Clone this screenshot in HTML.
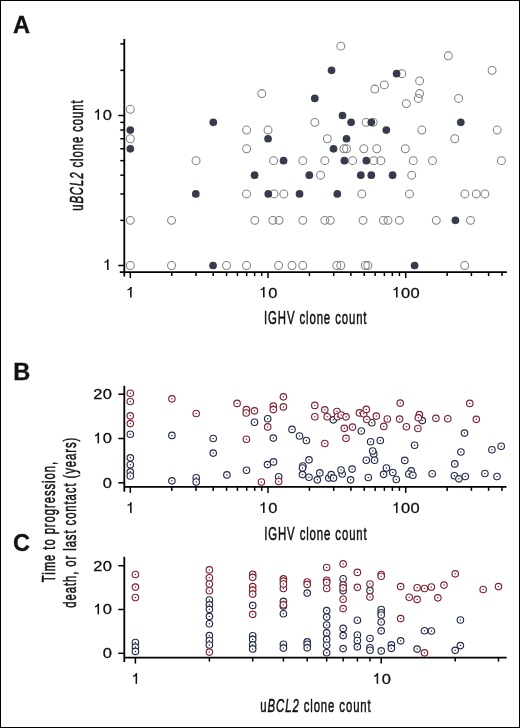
<!DOCTYPE html>
<html><head><meta charset="utf-8"><style>
html,body{margin:0;padding:0;background:#fff;}
svg{display:block;will-change:transform;}
text{font-family:"Liberation Sans", sans-serif;fill:#111;}
</style></head><body>
<svg width="520" height="728" viewBox="0 0 520 728">
<rect x="0" y="0" width="520" height="728" fill="#fff"/>
<rect x="0.5" y="0.5" width="519" height="727" fill="none" stroke="#000" stroke-width="1"/>
<line x1="124.30" y1="38.90" x2="124.30" y2="276.50" stroke="#000" stroke-width="1.8"/>
<line x1="118.30" y1="265.50" x2="124.30" y2="265.50" stroke="#000" stroke-width="1.5"/>
<line x1="118.30" y1="115.50" x2="124.30" y2="115.50" stroke="#000" stroke-width="1.5"/>
<line x1="120.30" y1="220.35" x2="124.30" y2="220.35" stroke="#000" stroke-width="1.5"/>
<line x1="120.30" y1="193.93" x2="124.30" y2="193.93" stroke="#000" stroke-width="1.5"/>
<line x1="120.30" y1="175.19" x2="124.30" y2="175.19" stroke="#000" stroke-width="1.5"/>
<line x1="120.30" y1="160.65" x2="124.30" y2="160.65" stroke="#000" stroke-width="1.5"/>
<line x1="120.30" y1="148.78" x2="124.30" y2="148.78" stroke="#000" stroke-width="1.5"/>
<line x1="120.30" y1="138.74" x2="124.30" y2="138.74" stroke="#000" stroke-width="1.5"/>
<line x1="120.30" y1="130.04" x2="124.30" y2="130.04" stroke="#000" stroke-width="1.5"/>
<line x1="120.30" y1="122.36" x2="124.30" y2="122.36" stroke="#000" stroke-width="1.5"/>
<line x1="120.30" y1="70.35" x2="124.30" y2="70.35" stroke="#000" stroke-width="1.5"/>
<line x1="120.30" y1="43.93" x2="124.30" y2="43.93" stroke="#000" stroke-width="1.5"/>
<line x1="119.80" y1="272.10" x2="506.90" y2="272.10" stroke="#000" stroke-width="1.8"/>
<line x1="130.30" y1="272.10" x2="130.30" y2="278.10" stroke="#000" stroke-width="1.5"/>
<line x1="268.00" y1="272.10" x2="268.00" y2="278.10" stroke="#000" stroke-width="1.5"/>
<line x1="405.70" y1="272.10" x2="405.70" y2="278.10" stroke="#000" stroke-width="1.5"/>
<line x1="171.75" y1="272.10" x2="171.75" y2="276.10" stroke="#000" stroke-width="1.5"/>
<line x1="196.00" y1="272.10" x2="196.00" y2="276.10" stroke="#000" stroke-width="1.5"/>
<line x1="213.20" y1="272.10" x2="213.20" y2="276.10" stroke="#000" stroke-width="1.5"/>
<line x1="226.55" y1="272.10" x2="226.55" y2="276.10" stroke="#000" stroke-width="1.5"/>
<line x1="237.45" y1="272.10" x2="237.45" y2="276.10" stroke="#000" stroke-width="1.5"/>
<line x1="246.67" y1="272.10" x2="246.67" y2="276.10" stroke="#000" stroke-width="1.5"/>
<line x1="254.66" y1="272.10" x2="254.66" y2="276.10" stroke="#000" stroke-width="1.5"/>
<line x1="261.70" y1="272.10" x2="261.70" y2="276.10" stroke="#000" stroke-width="1.5"/>
<line x1="309.45" y1="272.10" x2="309.45" y2="276.10" stroke="#000" stroke-width="1.5"/>
<line x1="333.70" y1="272.10" x2="333.70" y2="276.10" stroke="#000" stroke-width="1.5"/>
<line x1="350.90" y1="272.10" x2="350.90" y2="276.10" stroke="#000" stroke-width="1.5"/>
<line x1="364.25" y1="272.10" x2="364.25" y2="276.10" stroke="#000" stroke-width="1.5"/>
<line x1="375.15" y1="272.10" x2="375.15" y2="276.10" stroke="#000" stroke-width="1.5"/>
<line x1="384.37" y1="272.10" x2="384.37" y2="276.10" stroke="#000" stroke-width="1.5"/>
<line x1="392.36" y1="272.10" x2="392.36" y2="276.10" stroke="#000" stroke-width="1.5"/>
<line x1="399.40" y1="272.10" x2="399.40" y2="276.10" stroke="#000" stroke-width="1.5"/>
<line x1="447.15" y1="272.10" x2="447.15" y2="276.10" stroke="#000" stroke-width="1.5"/>
<line x1="471.40" y1="272.10" x2="471.40" y2="276.10" stroke="#000" stroke-width="1.5"/>
<line x1="488.60" y1="272.10" x2="488.60" y2="276.10" stroke="#000" stroke-width="1.5"/>
<line x1="501.95" y1="272.10" x2="501.95" y2="276.10" stroke="#000" stroke-width="1.5"/>
<line x1="124.30" y1="385.80" x2="124.30" y2="491.70" stroke="#000" stroke-width="1.8"/>
<line x1="118.30" y1="482.80" x2="124.30" y2="482.80" stroke="#000" stroke-width="1.5"/>
<line x1="118.30" y1="438.50" x2="124.30" y2="438.50" stroke="#000" stroke-width="1.5"/>
<line x1="118.30" y1="394.20" x2="124.30" y2="394.20" stroke="#000" stroke-width="1.5"/>
<line x1="124.30" y1="486.90" x2="506.50" y2="486.90" stroke="#000" stroke-width="1.8"/>
<line x1="130.30" y1="486.90" x2="130.30" y2="492.90" stroke="#000" stroke-width="1.5"/>
<line x1="268.00" y1="486.90" x2="268.00" y2="492.90" stroke="#000" stroke-width="1.5"/>
<line x1="405.70" y1="486.90" x2="405.70" y2="492.90" stroke="#000" stroke-width="1.5"/>
<line x1="171.75" y1="486.90" x2="171.75" y2="490.90" stroke="#000" stroke-width="1.5"/>
<line x1="196.00" y1="486.90" x2="196.00" y2="490.90" stroke="#000" stroke-width="1.5"/>
<line x1="213.20" y1="486.90" x2="213.20" y2="490.90" stroke="#000" stroke-width="1.5"/>
<line x1="226.55" y1="486.90" x2="226.55" y2="490.90" stroke="#000" stroke-width="1.5"/>
<line x1="237.45" y1="486.90" x2="237.45" y2="490.90" stroke="#000" stroke-width="1.5"/>
<line x1="246.67" y1="486.90" x2="246.67" y2="490.90" stroke="#000" stroke-width="1.5"/>
<line x1="254.66" y1="486.90" x2="254.66" y2="490.90" stroke="#000" stroke-width="1.5"/>
<line x1="261.70" y1="486.90" x2="261.70" y2="490.90" stroke="#000" stroke-width="1.5"/>
<line x1="309.45" y1="486.90" x2="309.45" y2="490.90" stroke="#000" stroke-width="1.5"/>
<line x1="333.70" y1="486.90" x2="333.70" y2="490.90" stroke="#000" stroke-width="1.5"/>
<line x1="350.90" y1="486.90" x2="350.90" y2="490.90" stroke="#000" stroke-width="1.5"/>
<line x1="364.25" y1="486.90" x2="364.25" y2="490.90" stroke="#000" stroke-width="1.5"/>
<line x1="375.15" y1="486.90" x2="375.15" y2="490.90" stroke="#000" stroke-width="1.5"/>
<line x1="384.37" y1="486.90" x2="384.37" y2="490.90" stroke="#000" stroke-width="1.5"/>
<line x1="392.36" y1="486.90" x2="392.36" y2="490.90" stroke="#000" stroke-width="1.5"/>
<line x1="399.40" y1="486.90" x2="399.40" y2="490.90" stroke="#000" stroke-width="1.5"/>
<line x1="447.15" y1="486.90" x2="447.15" y2="490.90" stroke="#000" stroke-width="1.5"/>
<line x1="471.40" y1="486.90" x2="471.40" y2="490.90" stroke="#000" stroke-width="1.5"/>
<line x1="488.60" y1="486.90" x2="488.60" y2="490.90" stroke="#000" stroke-width="1.5"/>
<line x1="501.95" y1="486.90" x2="501.95" y2="490.90" stroke="#000" stroke-width="1.5"/>
<line x1="124.30" y1="556.80" x2="124.30" y2="662.00" stroke="#000" stroke-width="1.8"/>
<line x1="118.30" y1="653.30" x2="124.30" y2="653.30" stroke="#000" stroke-width="1.5"/>
<line x1="118.30" y1="609.50" x2="124.30" y2="609.50" stroke="#000" stroke-width="1.5"/>
<line x1="118.30" y1="565.70" x2="124.30" y2="565.70" stroke="#000" stroke-width="1.5"/>
<line x1="124.30" y1="657.60" x2="506.70" y2="657.60" stroke="#000" stroke-width="1.8"/>
<line x1="135.40" y1="657.60" x2="135.40" y2="663.60" stroke="#000" stroke-width="1.5"/>
<line x1="381.20" y1="657.60" x2="381.20" y2="663.60" stroke="#000" stroke-width="1.5"/>
<line x1="209.39" y1="657.60" x2="209.39" y2="661.60" stroke="#000" stroke-width="1.5"/>
<line x1="252.68" y1="657.60" x2="252.68" y2="661.60" stroke="#000" stroke-width="1.5"/>
<line x1="283.39" y1="657.60" x2="283.39" y2="661.60" stroke="#000" stroke-width="1.5"/>
<line x1="307.21" y1="657.60" x2="307.21" y2="661.60" stroke="#000" stroke-width="1.5"/>
<line x1="326.67" y1="657.60" x2="326.67" y2="661.60" stroke="#000" stroke-width="1.5"/>
<line x1="343.13" y1="657.60" x2="343.13" y2="661.60" stroke="#000" stroke-width="1.5"/>
<line x1="357.38" y1="657.60" x2="357.38" y2="661.60" stroke="#000" stroke-width="1.5"/>
<line x1="369.95" y1="657.60" x2="369.95" y2="661.60" stroke="#000" stroke-width="1.5"/>
<line x1="455.19" y1="657.60" x2="455.19" y2="661.60" stroke="#000" stroke-width="1.5"/>
<line x1="498.48" y1="657.60" x2="498.48" y2="661.60" stroke="#000" stroke-width="1.5"/>
<circle cx="340.80" cy="46.14" r="3.95" fill="none" stroke="#828282" stroke-width="1.05"/>
<circle cx="448.30" cy="55.81" r="3.95" fill="none" stroke="#828282" stroke-width="1.05"/>
<circle cx="492.10" cy="70.35" r="3.95" fill="none" stroke="#828282" stroke-width="1.05"/>
<circle cx="401.80" cy="73.69" r="3.95" fill="none" stroke="#828282" stroke-width="1.05"/>
<circle cx="419.60" cy="80.93" r="3.95" fill="none" stroke="#828282" stroke-width="1.05"/>
<circle cx="384.30" cy="84.88" r="3.95" fill="none" stroke="#828282" stroke-width="1.05"/>
<circle cx="374.80" cy="89.09" r="3.95" fill="none" stroke="#828282" stroke-width="1.05"/>
<circle cx="261.80" cy="93.58" r="3.95" fill="none" stroke="#828282" stroke-width="1.05"/>
<circle cx="419.60" cy="93.58" r="3.95" fill="none" stroke="#828282" stroke-width="1.05"/>
<circle cx="418.30" cy="98.41" r="3.95" fill="none" stroke="#828282" stroke-width="1.05"/>
<circle cx="458.60" cy="98.41" r="3.95" fill="none" stroke="#828282" stroke-width="1.05"/>
<circle cx="406.30" cy="103.62" r="3.95" fill="none" stroke="#828282" stroke-width="1.05"/>
<circle cx="130.30" cy="109.29" r="3.95" fill="none" stroke="#828282" stroke-width="1.05"/>
<circle cx="314.80" cy="122.36" r="3.95" fill="none" stroke="#828282" stroke-width="1.05"/>
<circle cx="366.10" cy="122.36" r="3.95" fill="none" stroke="#828282" stroke-width="1.05"/>
<circle cx="373.20" cy="122.36" r="3.95" fill="none" stroke="#828282" stroke-width="1.05"/>
<circle cx="246.60" cy="130.04" r="3.95" fill="none" stroke="#828282" stroke-width="1.05"/>
<circle cx="268.05" cy="130.04" r="3.95" fill="none" stroke="#828282" stroke-width="1.05"/>
<circle cx="421.80" cy="130.04" r="3.95" fill="none" stroke="#828282" stroke-width="1.05"/>
<circle cx="497.20" cy="130.04" r="3.95" fill="none" stroke="#828282" stroke-width="1.05"/>
<circle cx="130.30" cy="138.74" r="3.95" fill="none" stroke="#828282" stroke-width="1.05"/>
<circle cx="327.30" cy="138.74" r="3.95" fill="none" stroke="#828282" stroke-width="1.05"/>
<circle cx="454.80" cy="138.74" r="3.95" fill="none" stroke="#828282" stroke-width="1.05"/>
<circle cx="246.60" cy="148.78" r="3.95" fill="none" stroke="#828282" stroke-width="1.05"/>
<circle cx="343.90" cy="148.78" r="3.95" fill="none" stroke="#828282" stroke-width="1.05"/>
<circle cx="346.50" cy="148.78" r="3.95" fill="none" stroke="#828282" stroke-width="1.05"/>
<circle cx="363.80" cy="148.78" r="3.95" fill="none" stroke="#828282" stroke-width="1.05"/>
<circle cx="376.80" cy="148.78" r="3.95" fill="none" stroke="#828282" stroke-width="1.05"/>
<circle cx="405.30" cy="148.78" r="3.95" fill="none" stroke="#828282" stroke-width="1.05"/>
<circle cx="196.05" cy="160.65" r="3.95" fill="none" stroke="#828282" stroke-width="1.05"/>
<circle cx="273.55" cy="160.65" r="3.95" fill="none" stroke="#828282" stroke-width="1.05"/>
<circle cx="302.80" cy="160.65" r="3.95" fill="none" stroke="#828282" stroke-width="1.05"/>
<circle cx="324.80" cy="160.65" r="3.95" fill="none" stroke="#828282" stroke-width="1.05"/>
<circle cx="352.60" cy="160.65" r="3.95" fill="none" stroke="#828282" stroke-width="1.05"/>
<circle cx="373.80" cy="160.65" r="3.95" fill="none" stroke="#828282" stroke-width="1.05"/>
<circle cx="380.80" cy="160.65" r="3.95" fill="none" stroke="#828282" stroke-width="1.05"/>
<circle cx="413.30" cy="160.65" r="3.95" fill="none" stroke="#828282" stroke-width="1.05"/>
<circle cx="432.50" cy="160.65" r="3.95" fill="none" stroke="#828282" stroke-width="1.05"/>
<circle cx="501.40" cy="160.65" r="3.95" fill="none" stroke="#828282" stroke-width="1.05"/>
<circle cx="320.60" cy="175.19" r="3.95" fill="none" stroke="#828282" stroke-width="1.05"/>
<circle cx="411.70" cy="175.19" r="3.95" fill="none" stroke="#828282" stroke-width="1.05"/>
<circle cx="246.50" cy="193.93" r="3.95" fill="none" stroke="#828282" stroke-width="1.05"/>
<circle cx="274.05" cy="193.93" r="3.95" fill="none" stroke="#828282" stroke-width="1.05"/>
<circle cx="283.80" cy="193.93" r="3.95" fill="none" stroke="#828282" stroke-width="1.05"/>
<circle cx="361.80" cy="193.93" r="3.95" fill="none" stroke="#828282" stroke-width="1.05"/>
<circle cx="409.50" cy="193.93" r="3.95" fill="none" stroke="#828282" stroke-width="1.05"/>
<circle cx="464.90" cy="193.93" r="3.95" fill="none" stroke="#828282" stroke-width="1.05"/>
<circle cx="476.30" cy="193.93" r="3.95" fill="none" stroke="#828282" stroke-width="1.05"/>
<circle cx="484.90" cy="193.93" r="3.95" fill="none" stroke="#828282" stroke-width="1.05"/>
<circle cx="130.30" cy="220.35" r="3.95" fill="none" stroke="#828282" stroke-width="1.05"/>
<circle cx="171.55" cy="220.35" r="3.95" fill="none" stroke="#828282" stroke-width="1.05"/>
<circle cx="254.80" cy="220.35" r="3.95" fill="none" stroke="#828282" stroke-width="1.05"/>
<circle cx="272.80" cy="220.35" r="3.95" fill="none" stroke="#828282" stroke-width="1.05"/>
<circle cx="279.05" cy="220.35" r="3.95" fill="none" stroke="#828282" stroke-width="1.05"/>
<circle cx="302.80" cy="220.35" r="3.95" fill="none" stroke="#828282" stroke-width="1.05"/>
<circle cx="324.80" cy="220.35" r="3.95" fill="none" stroke="#828282" stroke-width="1.05"/>
<circle cx="330.30" cy="220.35" r="3.95" fill="none" stroke="#828282" stroke-width="1.05"/>
<circle cx="363.10" cy="220.35" r="3.95" fill="none" stroke="#828282" stroke-width="1.05"/>
<circle cx="383.40" cy="220.35" r="3.95" fill="none" stroke="#828282" stroke-width="1.05"/>
<circle cx="388.00" cy="220.35" r="3.95" fill="none" stroke="#828282" stroke-width="1.05"/>
<circle cx="399.40" cy="220.35" r="3.95" fill="none" stroke="#828282" stroke-width="1.05"/>
<circle cx="436.30" cy="220.35" r="3.95" fill="none" stroke="#828282" stroke-width="1.05"/>
<circle cx="470.50" cy="220.35" r="3.95" fill="none" stroke="#828282" stroke-width="1.05"/>
<circle cx="130.30" cy="265.50" r="3.95" fill="none" stroke="#828282" stroke-width="1.05"/>
<circle cx="171.55" cy="265.50" r="3.95" fill="none" stroke="#828282" stroke-width="1.05"/>
<circle cx="226.55" cy="265.50" r="3.95" fill="none" stroke="#828282" stroke-width="1.05"/>
<circle cx="246.50" cy="265.50" r="3.95" fill="none" stroke="#828282" stroke-width="1.05"/>
<circle cx="278.55" cy="265.50" r="3.95" fill="none" stroke="#828282" stroke-width="1.05"/>
<circle cx="292.05" cy="265.50" r="3.95" fill="none" stroke="#828282" stroke-width="1.05"/>
<circle cx="302.80" cy="265.50" r="3.95" fill="none" stroke="#828282" stroke-width="1.05"/>
<circle cx="336.80" cy="265.50" r="3.95" fill="none" stroke="#828282" stroke-width="1.05"/>
<circle cx="340.80" cy="265.50" r="3.95" fill="none" stroke="#828282" stroke-width="1.05"/>
<circle cx="365.30" cy="265.50" r="3.95" fill="none" stroke="#828282" stroke-width="1.05"/>
<circle cx="367.80" cy="265.50" r="3.95" fill="none" stroke="#828282" stroke-width="1.05"/>
<circle cx="464.70" cy="265.50" r="3.95" fill="none" stroke="#828282" stroke-width="1.05"/>
<circle cx="331.55" cy="70.35" r="3.85" fill="#363b4d"/>
<circle cx="396.60" cy="73.69" r="3.85" fill="#363b4d"/>
<circle cx="314.80" cy="98.41" r="3.85" fill="#363b4d"/>
<circle cx="342.50" cy="115.50" r="3.85" fill="#363b4d"/>
<circle cx="213.30" cy="122.36" r="3.85" fill="#363b4d"/>
<circle cx="351.10" cy="122.36" r="3.85" fill="#363b4d"/>
<circle cx="371.30" cy="122.36" r="3.85" fill="#363b4d"/>
<circle cx="460.80" cy="122.36" r="3.85" fill="#363b4d"/>
<circle cx="130.30" cy="130.04" r="3.85" fill="#363b4d"/>
<circle cx="386.30" cy="130.04" r="3.85" fill="#363b4d"/>
<circle cx="268.05" cy="138.74" r="3.85" fill="#363b4d"/>
<circle cx="346.50" cy="138.74" r="3.85" fill="#363b4d"/>
<circle cx="130.30" cy="148.78" r="3.85" fill="#363b4d"/>
<circle cx="333.50" cy="148.78" r="3.85" fill="#363b4d"/>
<circle cx="283.55" cy="160.65" r="3.85" fill="#363b4d"/>
<circle cx="344.40" cy="160.65" r="3.85" fill="#363b4d"/>
<circle cx="366.30" cy="160.65" r="3.85" fill="#363b4d"/>
<circle cx="254.60" cy="175.19" r="3.85" fill="#363b4d"/>
<circle cx="309.30" cy="175.19" r="3.85" fill="#363b4d"/>
<circle cx="360.80" cy="175.19" r="3.85" fill="#363b4d"/>
<circle cx="371.30" cy="175.19" r="3.85" fill="#363b4d"/>
<circle cx="392.60" cy="175.19" r="3.85" fill="#363b4d"/>
<circle cx="195.80" cy="193.93" r="3.85" fill="#363b4d"/>
<circle cx="268.30" cy="193.93" r="3.85" fill="#363b4d"/>
<circle cx="299.55" cy="193.93" r="3.85" fill="#363b4d"/>
<circle cx="337.30" cy="193.93" r="3.85" fill="#363b4d"/>
<circle cx="455.40" cy="220.35" r="3.85" fill="#363b4d"/>
<circle cx="213.05" cy="265.50" r="3.85" fill="#363b4d"/>
<circle cx="414.60" cy="265.50" r="3.85" fill="#363b4d"/>
<circle cx="130.30" cy="434.20" r="3.25" fill="#fff" stroke="#222a4c" stroke-width="1.15"/><circle cx="130.30" cy="434.20" r="0.75" fill="#222a4c"/>
<circle cx="130.30" cy="457.80" r="3.25" fill="#fff" stroke="#222a4c" stroke-width="1.15"/><circle cx="130.30" cy="457.80" r="0.75" fill="#222a4c"/>
<circle cx="130.30" cy="464.70" r="3.25" fill="#fff" stroke="#222a4c" stroke-width="1.15"/><circle cx="130.30" cy="464.70" r="0.75" fill="#222a4c"/>
<circle cx="130.30" cy="471.80" r="3.25" fill="#fff" stroke="#222a4c" stroke-width="1.15"/><circle cx="130.30" cy="471.80" r="0.75" fill="#222a4c"/>
<circle cx="130.30" cy="476.00" r="3.25" fill="#fff" stroke="#222a4c" stroke-width="1.15"/><circle cx="130.30" cy="476.00" r="0.75" fill="#222a4c"/>
<circle cx="171.90" cy="435.40" r="3.25" fill="#fff" stroke="#222a4c" stroke-width="1.15"/><circle cx="171.90" cy="435.40" r="0.75" fill="#222a4c"/>
<circle cx="171.90" cy="480.80" r="3.25" fill="#fff" stroke="#222a4c" stroke-width="1.15"/><circle cx="171.90" cy="480.80" r="0.75" fill="#222a4c"/>
<circle cx="213.20" cy="438.50" r="3.25" fill="#fff" stroke="#222a4c" stroke-width="1.15"/><circle cx="213.20" cy="438.50" r="0.75" fill="#222a4c"/>
<circle cx="213.20" cy="453.10" r="3.25" fill="#fff" stroke="#222a4c" stroke-width="1.15"/><circle cx="213.20" cy="453.10" r="0.75" fill="#222a4c"/>
<circle cx="196.20" cy="477.70" r="3.25" fill="#fff" stroke="#222a4c" stroke-width="1.15"/><circle cx="196.20" cy="477.70" r="0.75" fill="#222a4c"/>
<circle cx="196.20" cy="482.00" r="3.25" fill="#fff" stroke="#222a4c" stroke-width="1.15"/><circle cx="196.20" cy="482.00" r="0.75" fill="#222a4c"/>
<circle cx="226.90" cy="474.90" r="3.25" fill="#fff" stroke="#222a4c" stroke-width="1.15"/><circle cx="226.90" cy="474.90" r="0.75" fill="#222a4c"/>
<circle cx="246.50" cy="470.20" r="3.25" fill="#fff" stroke="#222a4c" stroke-width="1.15"/><circle cx="246.50" cy="470.20" r="0.75" fill="#222a4c"/>
<circle cx="254.50" cy="422.20" r="3.25" fill="#fff" stroke="#222a4c" stroke-width="1.15"/><circle cx="254.50" cy="422.20" r="0.75" fill="#222a4c"/>
<circle cx="267.70" cy="418.70" r="3.25" fill="#fff" stroke="#222a4c" stroke-width="1.15"/><circle cx="267.70" cy="418.70" r="0.75" fill="#222a4c"/>
<circle cx="273.30" cy="438.10" r="3.25" fill="#fff" stroke="#222a4c" stroke-width="1.15"/><circle cx="273.30" cy="438.10" r="0.75" fill="#222a4c"/>
<circle cx="267.50" cy="464.60" r="3.25" fill="#fff" stroke="#222a4c" stroke-width="1.15"/><circle cx="267.50" cy="464.60" r="0.75" fill="#222a4c"/>
<circle cx="273.50" cy="461.90" r="3.25" fill="#fff" stroke="#222a4c" stroke-width="1.15"/><circle cx="273.50" cy="461.90" r="0.75" fill="#222a4c"/>
<circle cx="278.70" cy="476.70" r="3.25" fill="#fff" stroke="#222a4c" stroke-width="1.15"/><circle cx="278.70" cy="476.70" r="0.75" fill="#222a4c"/>
<circle cx="292.00" cy="429.40" r="3.25" fill="#fff" stroke="#222a4c" stroke-width="1.15"/><circle cx="292.00" cy="429.40" r="0.75" fill="#222a4c"/>
<circle cx="299.50" cy="436.00" r="3.25" fill="#fff" stroke="#222a4c" stroke-width="1.15"/><circle cx="299.50" cy="436.00" r="0.75" fill="#222a4c"/>
<circle cx="306.40" cy="440.50" r="3.25" fill="#fff" stroke="#222a4c" stroke-width="1.15"/><circle cx="306.40" cy="440.50" r="0.75" fill="#222a4c"/>
<circle cx="333.30" cy="419.80" r="3.25" fill="#fff" stroke="#222a4c" stroke-width="1.15"/><circle cx="333.30" cy="419.80" r="0.75" fill="#222a4c"/>
<circle cx="309.00" cy="459.80" r="3.25" fill="#fff" stroke="#222a4c" stroke-width="1.15"/><circle cx="309.00" cy="459.80" r="0.75" fill="#222a4c"/>
<circle cx="302.90" cy="466.00" r="3.25" fill="#fff" stroke="#222a4c" stroke-width="1.15"/><circle cx="302.90" cy="466.00" r="0.75" fill="#222a4c"/>
<circle cx="302.50" cy="468.00" r="3.25" fill="#fff" stroke="#222a4c" stroke-width="1.15"/><circle cx="302.50" cy="468.00" r="0.75" fill="#222a4c"/>
<circle cx="302.50" cy="474.60" r="3.25" fill="#fff" stroke="#222a4c" stroke-width="1.15"/><circle cx="302.50" cy="474.60" r="0.75" fill="#222a4c"/>
<circle cx="309.00" cy="477.20" r="3.25" fill="#fff" stroke="#222a4c" stroke-width="1.15"/><circle cx="309.00" cy="477.20" r="0.75" fill="#222a4c"/>
<circle cx="317.30" cy="479.80" r="3.25" fill="#fff" stroke="#222a4c" stroke-width="1.15"/><circle cx="317.30" cy="479.80" r="0.75" fill="#222a4c"/>
<circle cx="319.80" cy="472.90" r="3.25" fill="#fff" stroke="#222a4c" stroke-width="1.15"/><circle cx="319.80" cy="472.90" r="0.75" fill="#222a4c"/>
<circle cx="328.80" cy="478.10" r="3.25" fill="#fff" stroke="#222a4c" stroke-width="1.15"/><circle cx="328.80" cy="478.10" r="0.75" fill="#222a4c"/>
<circle cx="331.20" cy="474.60" r="3.25" fill="#fff" stroke="#222a4c" stroke-width="1.15"/><circle cx="331.20" cy="474.60" r="0.75" fill="#222a4c"/>
<circle cx="333.50" cy="478.10" r="3.25" fill="#fff" stroke="#222a4c" stroke-width="1.15"/><circle cx="333.50" cy="478.10" r="0.75" fill="#222a4c"/>
<circle cx="342.20" cy="474.00" r="3.25" fill="#fff" stroke="#222a4c" stroke-width="1.15"/><circle cx="342.20" cy="474.00" r="0.75" fill="#222a4c"/>
<circle cx="341.00" cy="470.00" r="3.25" fill="#fff" stroke="#222a4c" stroke-width="1.15"/><circle cx="341.00" cy="470.00" r="0.75" fill="#222a4c"/>
<circle cx="371.80" cy="422.70" r="3.25" fill="#fff" stroke="#222a4c" stroke-width="1.15"/><circle cx="371.80" cy="422.70" r="0.75" fill="#222a4c"/>
<circle cx="361.30" cy="431.00" r="3.25" fill="#fff" stroke="#222a4c" stroke-width="1.15"/><circle cx="361.30" cy="431.00" r="0.75" fill="#222a4c"/>
<circle cx="370.60" cy="441.70" r="3.25" fill="#fff" stroke="#222a4c" stroke-width="1.15"/><circle cx="370.60" cy="441.70" r="0.75" fill="#222a4c"/>
<circle cx="380.30" cy="440.50" r="3.25" fill="#fff" stroke="#222a4c" stroke-width="1.15"/><circle cx="380.30" cy="440.50" r="0.75" fill="#222a4c"/>
<circle cx="373.80" cy="454.10" r="3.25" fill="#fff" stroke="#222a4c" stroke-width="1.15"/><circle cx="373.80" cy="454.10" r="0.75" fill="#222a4c"/>
<circle cx="372.70" cy="451.00" r="3.25" fill="#fff" stroke="#222a4c" stroke-width="1.15"/><circle cx="372.70" cy="451.00" r="0.75" fill="#222a4c"/>
<circle cx="366.30" cy="460.20" r="3.25" fill="#fff" stroke="#222a4c" stroke-width="1.15"/><circle cx="366.30" cy="460.20" r="0.75" fill="#222a4c"/>
<circle cx="374.60" cy="460.20" r="3.25" fill="#fff" stroke="#222a4c" stroke-width="1.15"/><circle cx="374.60" cy="460.20" r="0.75" fill="#222a4c"/>
<circle cx="352.10" cy="469.10" r="3.25" fill="#fff" stroke="#222a4c" stroke-width="1.15"/><circle cx="352.10" cy="469.10" r="0.75" fill="#222a4c"/>
<circle cx="350.60" cy="479.80" r="3.25" fill="#fff" stroke="#222a4c" stroke-width="1.15"/><circle cx="350.60" cy="479.80" r="0.75" fill="#222a4c"/>
<circle cx="368.30" cy="477.50" r="3.25" fill="#fff" stroke="#222a4c" stroke-width="1.15"/><circle cx="368.30" cy="477.50" r="0.75" fill="#222a4c"/>
<circle cx="386.40" cy="468.00" r="3.25" fill="#fff" stroke="#222a4c" stroke-width="1.15"/><circle cx="386.40" cy="468.00" r="0.75" fill="#222a4c"/>
<circle cx="383.60" cy="474.30" r="3.25" fill="#fff" stroke="#222a4c" stroke-width="1.15"/><circle cx="383.60" cy="474.30" r="0.75" fill="#222a4c"/>
<circle cx="392.80" cy="472.50" r="3.25" fill="#fff" stroke="#222a4c" stroke-width="1.15"/><circle cx="392.80" cy="472.50" r="0.75" fill="#222a4c"/>
<circle cx="396.30" cy="479.50" r="3.25" fill="#fff" stroke="#222a4c" stroke-width="1.15"/><circle cx="396.30" cy="479.50" r="0.75" fill="#222a4c"/>
<circle cx="422.30" cy="420.60" r="3.25" fill="#fff" stroke="#222a4c" stroke-width="1.15"/><circle cx="422.30" cy="420.60" r="0.75" fill="#222a4c"/>
<circle cx="414.60" cy="445.20" r="3.25" fill="#fff" stroke="#222a4c" stroke-width="1.15"/><circle cx="414.60" cy="445.20" r="0.75" fill="#222a4c"/>
<circle cx="404.80" cy="460.40" r="3.25" fill="#fff" stroke="#222a4c" stroke-width="1.15"/><circle cx="404.80" cy="460.40" r="0.75" fill="#222a4c"/>
<circle cx="411.20" cy="470.90" r="3.25" fill="#fff" stroke="#222a4c" stroke-width="1.15"/><circle cx="411.20" cy="470.90" r="0.75" fill="#222a4c"/>
<circle cx="408.80" cy="474.00" r="3.25" fill="#fff" stroke="#222a4c" stroke-width="1.15"/><circle cx="408.80" cy="474.00" r="0.75" fill="#222a4c"/>
<circle cx="412.90" cy="475.20" r="3.25" fill="#fff" stroke="#222a4c" stroke-width="1.15"/><circle cx="412.90" cy="475.20" r="0.75" fill="#222a4c"/>
<circle cx="432.20" cy="473.70" r="3.25" fill="#fff" stroke="#222a4c" stroke-width="1.15"/><circle cx="432.20" cy="473.70" r="0.75" fill="#222a4c"/>
<circle cx="464.50" cy="433.10" r="3.25" fill="#fff" stroke="#222a4c" stroke-width="1.15"/><circle cx="464.50" cy="433.10" r="0.75" fill="#222a4c"/>
<circle cx="460.90" cy="452.00" r="3.25" fill="#fff" stroke="#222a4c" stroke-width="1.15"/><circle cx="460.90" cy="452.00" r="0.75" fill="#222a4c"/>
<circle cx="454.80" cy="463.90" r="3.25" fill="#fff" stroke="#222a4c" stroke-width="1.15"/><circle cx="454.80" cy="463.90" r="0.75" fill="#222a4c"/>
<circle cx="454.40" cy="475.70" r="3.25" fill="#fff" stroke="#222a4c" stroke-width="1.15"/><circle cx="454.40" cy="475.70" r="0.75" fill="#222a4c"/>
<circle cx="458.90" cy="478.80" r="3.25" fill="#fff" stroke="#222a4c" stroke-width="1.15"/><circle cx="458.90" cy="478.80" r="0.75" fill="#222a4c"/>
<circle cx="465.30" cy="476.50" r="3.25" fill="#fff" stroke="#222a4c" stroke-width="1.15"/><circle cx="465.30" cy="476.50" r="0.75" fill="#222a4c"/>
<circle cx="484.90" cy="473.50" r="3.25" fill="#fff" stroke="#222a4c" stroke-width="1.15"/><circle cx="484.90" cy="473.50" r="0.75" fill="#222a4c"/>
<circle cx="491.90" cy="449.70" r="3.25" fill="#fff" stroke="#222a4c" stroke-width="1.15"/><circle cx="491.90" cy="449.70" r="0.75" fill="#222a4c"/>
<circle cx="501.20" cy="446.20" r="3.25" fill="#fff" stroke="#222a4c" stroke-width="1.15"/><circle cx="501.20" cy="446.20" r="0.75" fill="#222a4c"/>
<circle cx="497.00" cy="476.50" r="3.25" fill="#fff" stroke="#222a4c" stroke-width="1.15"/><circle cx="497.00" cy="476.50" r="0.75" fill="#222a4c"/>
<circle cx="130.30" cy="393.20" r="3.25" fill="#fff" stroke="#7e2232" stroke-width="1.15"/><circle cx="130.30" cy="393.20" r="0.75" fill="#7e2232"/>
<circle cx="130.30" cy="401.50" r="3.25" fill="#fff" stroke="#7e2232" stroke-width="1.15"/><circle cx="130.30" cy="401.50" r="0.75" fill="#7e2232"/>
<circle cx="130.30" cy="415.80" r="3.25" fill="#fff" stroke="#7e2232" stroke-width="1.15"/><circle cx="130.30" cy="415.80" r="0.75" fill="#7e2232"/>
<circle cx="130.30" cy="423.60" r="3.25" fill="#fff" stroke="#7e2232" stroke-width="1.15"/><circle cx="130.30" cy="423.60" r="0.75" fill="#7e2232"/>
<circle cx="171.90" cy="398.80" r="3.25" fill="#fff" stroke="#7e2232" stroke-width="1.15"/><circle cx="171.90" cy="398.80" r="0.75" fill="#7e2232"/>
<circle cx="196.20" cy="413.50" r="3.25" fill="#fff" stroke="#7e2232" stroke-width="1.15"/><circle cx="196.20" cy="413.50" r="0.75" fill="#7e2232"/>
<circle cx="237.10" cy="403.40" r="3.25" fill="#fff" stroke="#7e2232" stroke-width="1.15"/><circle cx="237.10" cy="403.40" r="0.75" fill="#7e2232"/>
<circle cx="246.40" cy="409.60" r="3.25" fill="#fff" stroke="#7e2232" stroke-width="1.15"/><circle cx="246.40" cy="409.60" r="0.75" fill="#7e2232"/>
<circle cx="246.20" cy="413.00" r="3.25" fill="#fff" stroke="#7e2232" stroke-width="1.15"/><circle cx="246.20" cy="413.00" r="0.75" fill="#7e2232"/>
<circle cx="254.50" cy="410.80" r="3.25" fill="#fff" stroke="#7e2232" stroke-width="1.15"/><circle cx="254.50" cy="410.80" r="0.75" fill="#7e2232"/>
<circle cx="273.30" cy="406.10" r="3.25" fill="#fff" stroke="#7e2232" stroke-width="1.15"/><circle cx="273.30" cy="406.10" r="0.75" fill="#7e2232"/>
<circle cx="273.30" cy="409.60" r="3.25" fill="#fff" stroke="#7e2232" stroke-width="1.15"/><circle cx="273.30" cy="409.60" r="0.75" fill="#7e2232"/>
<circle cx="283.40" cy="396.80" r="3.25" fill="#fff" stroke="#7e2232" stroke-width="1.15"/><circle cx="283.40" cy="396.80" r="0.75" fill="#7e2232"/>
<circle cx="283.40" cy="406.90" r="3.25" fill="#fff" stroke="#7e2232" stroke-width="1.15"/><circle cx="283.40" cy="406.90" r="0.75" fill="#7e2232"/>
<circle cx="267.70" cy="426.90" r="3.25" fill="#fff" stroke="#7e2232" stroke-width="1.15"/><circle cx="267.70" cy="426.90" r="0.75" fill="#7e2232"/>
<circle cx="246.40" cy="439.20" r="3.25" fill="#fff" stroke="#7e2232" stroke-width="1.15"/><circle cx="246.40" cy="439.20" r="0.75" fill="#7e2232"/>
<circle cx="314.80" cy="405.40" r="3.25" fill="#fff" stroke="#7e2232" stroke-width="1.15"/><circle cx="314.80" cy="405.40" r="0.75" fill="#7e2232"/>
<circle cx="314.80" cy="416.70" r="3.25" fill="#fff" stroke="#7e2232" stroke-width="1.15"/><circle cx="314.80" cy="416.70" r="0.75" fill="#7e2232"/>
<circle cx="324.80" cy="409.80" r="3.25" fill="#fff" stroke="#7e2232" stroke-width="1.15"/><circle cx="324.80" cy="409.80" r="0.75" fill="#7e2232"/>
<circle cx="327.20" cy="416.70" r="3.25" fill="#fff" stroke="#7e2232" stroke-width="1.15"/><circle cx="327.20" cy="416.70" r="0.75" fill="#7e2232"/>
<circle cx="337.00" cy="411.50" r="3.25" fill="#fff" stroke="#7e2232" stroke-width="1.15"/><circle cx="337.00" cy="411.50" r="0.75" fill="#7e2232"/>
<circle cx="337.50" cy="416.70" r="3.25" fill="#fff" stroke="#7e2232" stroke-width="1.15"/><circle cx="337.50" cy="416.70" r="0.75" fill="#7e2232"/>
<circle cx="341.20" cy="415.00" r="3.25" fill="#fff" stroke="#7e2232" stroke-width="1.15"/><circle cx="341.20" cy="415.00" r="0.75" fill="#7e2232"/>
<circle cx="346.00" cy="416.80" r="3.25" fill="#fff" stroke="#7e2232" stroke-width="1.15"/><circle cx="346.00" cy="416.80" r="0.75" fill="#7e2232"/>
<circle cx="344.30" cy="428.30" r="3.25" fill="#fff" stroke="#7e2232" stroke-width="1.15"/><circle cx="344.30" cy="428.30" r="0.75" fill="#7e2232"/>
<circle cx="346.00" cy="438.30" r="3.25" fill="#fff" stroke="#7e2232" stroke-width="1.15"/><circle cx="346.00" cy="438.30" r="0.75" fill="#7e2232"/>
<circle cx="324.80" cy="443.50" r="3.25" fill="#fff" stroke="#7e2232" stroke-width="1.15"/><circle cx="324.80" cy="443.50" r="0.75" fill="#7e2232"/>
<circle cx="352.50" cy="427.10" r="3.25" fill="#fff" stroke="#7e2232" stroke-width="1.15"/><circle cx="352.50" cy="427.10" r="0.75" fill="#7e2232"/>
<circle cx="359.40" cy="412.90" r="3.25" fill="#fff" stroke="#7e2232" stroke-width="1.15"/><circle cx="359.40" cy="412.90" r="0.75" fill="#7e2232"/>
<circle cx="363.70" cy="413.70" r="3.25" fill="#fff" stroke="#7e2232" stroke-width="1.15"/><circle cx="363.70" cy="413.70" r="0.75" fill="#7e2232"/>
<circle cx="366.30" cy="409.40" r="3.25" fill="#fff" stroke="#7e2232" stroke-width="1.15"/><circle cx="366.30" cy="409.40" r="0.75" fill="#7e2232"/>
<circle cx="366.80" cy="419.50" r="3.25" fill="#fff" stroke="#7e2232" stroke-width="1.15"/><circle cx="366.80" cy="419.50" r="0.75" fill="#7e2232"/>
<circle cx="376.30" cy="416.10" r="3.25" fill="#fff" stroke="#7e2232" stroke-width="1.15"/><circle cx="376.30" cy="416.10" r="0.75" fill="#7e2232"/>
<circle cx="387.30" cy="419.00" r="3.25" fill="#fff" stroke="#7e2232" stroke-width="1.15"/><circle cx="387.30" cy="419.00" r="0.75" fill="#7e2232"/>
<circle cx="383.80" cy="426.40" r="3.25" fill="#fff" stroke="#7e2232" stroke-width="1.15"/><circle cx="383.80" cy="426.40" r="0.75" fill="#7e2232"/>
<circle cx="400.20" cy="403.10" r="3.25" fill="#fff" stroke="#7e2232" stroke-width="1.15"/><circle cx="400.20" cy="403.10" r="0.75" fill="#7e2232"/>
<circle cx="399.60" cy="419.10" r="3.25" fill="#fff" stroke="#7e2232" stroke-width="1.15"/><circle cx="399.60" cy="419.10" r="0.75" fill="#7e2232"/>
<circle cx="406.40" cy="426.70" r="3.25" fill="#fff" stroke="#7e2232" stroke-width="1.15"/><circle cx="406.40" cy="426.70" r="0.75" fill="#7e2232"/>
<circle cx="419.40" cy="414.60" r="3.25" fill="#fff" stroke="#7e2232" stroke-width="1.15"/><circle cx="419.40" cy="414.60" r="0.75" fill="#7e2232"/>
<circle cx="418.30" cy="417.80" r="3.25" fill="#fff" stroke="#7e2232" stroke-width="1.15"/><circle cx="418.30" cy="417.80" r="0.75" fill="#7e2232"/>
<circle cx="417.90" cy="428.50" r="3.25" fill="#fff" stroke="#7e2232" stroke-width="1.15"/><circle cx="417.90" cy="428.50" r="0.75" fill="#7e2232"/>
<circle cx="435.90" cy="418.30" r="3.25" fill="#fff" stroke="#7e2232" stroke-width="1.15"/><circle cx="435.90" cy="418.30" r="0.75" fill="#7e2232"/>
<circle cx="447.80" cy="418.70" r="3.25" fill="#fff" stroke="#7e2232" stroke-width="1.15"/><circle cx="447.80" cy="418.70" r="0.75" fill="#7e2232"/>
<circle cx="469.80" cy="403.40" r="3.25" fill="#fff" stroke="#7e2232" stroke-width="1.15"/><circle cx="469.80" cy="403.40" r="0.75" fill="#7e2232"/>
<circle cx="476.30" cy="419.30" r="3.25" fill="#fff" stroke="#7e2232" stroke-width="1.15"/><circle cx="476.30" cy="419.30" r="0.75" fill="#7e2232"/>
<circle cx="261.40" cy="482.00" r="3.25" fill="#fff" stroke="#7e2232" stroke-width="1.15"/><circle cx="261.40" cy="482.00" r="0.75" fill="#7e2232"/>
<circle cx="278.70" cy="481.50" r="3.25" fill="#fff" stroke="#7e2232" stroke-width="1.15"/><circle cx="278.70" cy="481.50" r="0.75" fill="#7e2232"/>
<circle cx="135.40" cy="642.50" r="3.25" fill="#fff" stroke="#222a4c" stroke-width="1.15"/><circle cx="135.40" cy="642.50" r="0.75" fill="#222a4c"/>
<circle cx="135.40" cy="647.10" r="3.25" fill="#fff" stroke="#222a4c" stroke-width="1.15"/><circle cx="135.40" cy="647.10" r="0.75" fill="#222a4c"/>
<circle cx="135.40" cy="651.40" r="3.25" fill="#fff" stroke="#222a4c" stroke-width="1.15"/><circle cx="135.40" cy="651.40" r="0.75" fill="#222a4c"/>
<circle cx="209.39" cy="600.00" r="3.25" fill="#fff" stroke="#222a4c" stroke-width="1.15"/><circle cx="209.39" cy="600.00" r="0.75" fill="#222a4c"/>
<circle cx="209.39" cy="604.80" r="3.25" fill="#fff" stroke="#222a4c" stroke-width="1.15"/><circle cx="209.39" cy="604.80" r="0.75" fill="#222a4c"/>
<circle cx="209.39" cy="609.30" r="3.25" fill="#fff" stroke="#222a4c" stroke-width="1.15"/><circle cx="209.39" cy="609.30" r="0.75" fill="#222a4c"/>
<circle cx="209.39" cy="616.40" r="3.25" fill="#fff" stroke="#222a4c" stroke-width="1.15"/><circle cx="209.39" cy="616.40" r="0.75" fill="#222a4c"/>
<circle cx="209.39" cy="623.75" r="3.25" fill="#fff" stroke="#222a4c" stroke-width="1.15"/><circle cx="209.39" cy="623.75" r="0.75" fill="#222a4c"/>
<circle cx="209.39" cy="635.60" r="3.25" fill="#fff" stroke="#222a4c" stroke-width="1.15"/><circle cx="209.39" cy="635.60" r="0.75" fill="#222a4c"/>
<circle cx="209.39" cy="640.50" r="3.25" fill="#fff" stroke="#222a4c" stroke-width="1.15"/><circle cx="209.39" cy="640.50" r="0.75" fill="#222a4c"/>
<circle cx="209.39" cy="645.00" r="3.25" fill="#fff" stroke="#222a4c" stroke-width="1.15"/><circle cx="209.39" cy="645.00" r="0.75" fill="#222a4c"/>
<circle cx="252.68" cy="605.40" r="3.25" fill="#fff" stroke="#222a4c" stroke-width="1.15"/><circle cx="252.68" cy="605.40" r="0.75" fill="#222a4c"/>
<circle cx="252.68" cy="635.70" r="3.25" fill="#fff" stroke="#222a4c" stroke-width="1.15"/><circle cx="252.68" cy="635.70" r="0.75" fill="#222a4c"/>
<circle cx="252.68" cy="639.30" r="3.25" fill="#fff" stroke="#222a4c" stroke-width="1.15"/><circle cx="252.68" cy="639.30" r="0.75" fill="#222a4c"/>
<circle cx="252.68" cy="644.90" r="3.25" fill="#fff" stroke="#222a4c" stroke-width="1.15"/><circle cx="252.68" cy="644.90" r="0.75" fill="#222a4c"/>
<circle cx="252.68" cy="648.90" r="3.25" fill="#fff" stroke="#222a4c" stroke-width="1.15"/><circle cx="252.68" cy="648.90" r="0.75" fill="#222a4c"/>
<circle cx="283.39" cy="601.30" r="3.25" fill="#fff" stroke="#222a4c" stroke-width="1.15"/><circle cx="283.39" cy="601.30" r="0.75" fill="#222a4c"/>
<circle cx="283.39" cy="606.00" r="3.25" fill="#fff" stroke="#222a4c" stroke-width="1.15"/><circle cx="283.39" cy="606.00" r="0.75" fill="#222a4c"/>
<circle cx="283.39" cy="613.75" r="3.25" fill="#fff" stroke="#222a4c" stroke-width="1.15"/><circle cx="283.39" cy="613.75" r="0.75" fill="#222a4c"/>
<circle cx="283.39" cy="644.20" r="3.25" fill="#fff" stroke="#222a4c" stroke-width="1.15"/><circle cx="283.39" cy="644.20" r="0.75" fill="#222a4c"/>
<circle cx="283.39" cy="648.10" r="3.25" fill="#fff" stroke="#222a4c" stroke-width="1.15"/><circle cx="283.39" cy="648.10" r="0.75" fill="#222a4c"/>
<circle cx="307.21" cy="593.10" r="3.25" fill="#fff" stroke="#222a4c" stroke-width="1.15"/><circle cx="307.21" cy="593.10" r="0.75" fill="#222a4c"/>
<circle cx="307.21" cy="641.80" r="3.25" fill="#fff" stroke="#222a4c" stroke-width="1.15"/><circle cx="307.21" cy="641.80" r="0.75" fill="#222a4c"/>
<circle cx="307.21" cy="644.20" r="3.25" fill="#fff" stroke="#222a4c" stroke-width="1.15"/><circle cx="307.21" cy="644.20" r="0.75" fill="#222a4c"/>
<circle cx="307.21" cy="647.80" r="3.25" fill="#fff" stroke="#222a4c" stroke-width="1.15"/><circle cx="307.21" cy="647.80" r="0.75" fill="#222a4c"/>
<circle cx="326.67" cy="610.60" r="3.25" fill="#fff" stroke="#222a4c" stroke-width="1.15"/><circle cx="326.67" cy="610.60" r="0.75" fill="#222a4c"/>
<circle cx="326.67" cy="617.10" r="3.25" fill="#fff" stroke="#222a4c" stroke-width="1.15"/><circle cx="326.67" cy="617.10" r="0.75" fill="#222a4c"/>
<circle cx="326.67" cy="625.00" r="3.25" fill="#fff" stroke="#222a4c" stroke-width="1.15"/><circle cx="326.67" cy="625.00" r="0.75" fill="#222a4c"/>
<circle cx="326.67" cy="632.90" r="3.25" fill="#fff" stroke="#222a4c" stroke-width="1.15"/><circle cx="326.67" cy="632.90" r="0.75" fill="#222a4c"/>
<circle cx="326.67" cy="639.40" r="3.25" fill="#fff" stroke="#222a4c" stroke-width="1.15"/><circle cx="326.67" cy="639.40" r="0.75" fill="#222a4c"/>
<circle cx="326.67" cy="645.20" r="3.25" fill="#fff" stroke="#222a4c" stroke-width="1.15"/><circle cx="326.67" cy="645.20" r="0.75" fill="#222a4c"/>
<circle cx="326.67" cy="652.70" r="3.25" fill="#fff" stroke="#222a4c" stroke-width="1.15"/><circle cx="326.67" cy="652.70" r="0.75" fill="#222a4c"/>
<circle cx="343.13" cy="578.70" r="3.25" fill="#fff" stroke="#222a4c" stroke-width="1.15"/><circle cx="343.13" cy="578.70" r="0.75" fill="#222a4c"/>
<circle cx="343.13" cy="590.80" r="3.25" fill="#fff" stroke="#222a4c" stroke-width="1.15"/><circle cx="343.13" cy="590.80" r="0.75" fill="#222a4c"/>
<circle cx="343.13" cy="628.40" r="3.25" fill="#fff" stroke="#222a4c" stroke-width="1.15"/><circle cx="343.13" cy="628.40" r="0.75" fill="#222a4c"/>
<circle cx="343.13" cy="635.60" r="3.25" fill="#fff" stroke="#222a4c" stroke-width="1.15"/><circle cx="343.13" cy="635.60" r="0.75" fill="#222a4c"/>
<circle cx="343.13" cy="648.60" r="3.25" fill="#fff" stroke="#222a4c" stroke-width="1.15"/><circle cx="343.13" cy="648.60" r="0.75" fill="#222a4c"/>
<circle cx="357.38" cy="620.20" r="3.25" fill="#fff" stroke="#222a4c" stroke-width="1.15"/><circle cx="357.38" cy="620.20" r="0.75" fill="#222a4c"/>
<circle cx="357.38" cy="635.00" r="3.25" fill="#fff" stroke="#222a4c" stroke-width="1.15"/><circle cx="357.38" cy="635.00" r="0.75" fill="#222a4c"/>
<circle cx="357.38" cy="640.50" r="3.25" fill="#fff" stroke="#222a4c" stroke-width="1.15"/><circle cx="357.38" cy="640.50" r="0.75" fill="#222a4c"/>
<circle cx="357.38" cy="646.80" r="3.25" fill="#fff" stroke="#222a4c" stroke-width="1.15"/><circle cx="357.38" cy="646.80" r="0.75" fill="#222a4c"/>
<circle cx="369.95" cy="590.60" r="3.25" fill="#fff" stroke="#222a4c" stroke-width="1.15"/><circle cx="369.95" cy="590.60" r="0.75" fill="#222a4c"/>
<circle cx="369.95" cy="638.50" r="3.25" fill="#fff" stroke="#222a4c" stroke-width="1.15"/><circle cx="369.95" cy="638.50" r="0.75" fill="#222a4c"/>
<circle cx="369.95" cy="647.70" r="3.25" fill="#fff" stroke="#222a4c" stroke-width="1.15"/><circle cx="369.95" cy="647.70" r="0.75" fill="#222a4c"/>
<circle cx="369.95" cy="650.20" r="3.25" fill="#fff" stroke="#222a4c" stroke-width="1.15"/><circle cx="369.95" cy="650.20" r="0.75" fill="#222a4c"/>
<circle cx="381.20" cy="609.50" r="3.25" fill="#fff" stroke="#222a4c" stroke-width="1.15"/><circle cx="381.20" cy="609.50" r="0.75" fill="#222a4c"/>
<circle cx="381.20" cy="612.70" r="3.25" fill="#fff" stroke="#222a4c" stroke-width="1.15"/><circle cx="381.20" cy="612.70" r="0.75" fill="#222a4c"/>
<circle cx="381.20" cy="615.00" r="3.25" fill="#fff" stroke="#222a4c" stroke-width="1.15"/><circle cx="381.20" cy="615.00" r="0.75" fill="#222a4c"/>
<circle cx="381.20" cy="622.00" r="3.25" fill="#fff" stroke="#222a4c" stroke-width="1.15"/><circle cx="381.20" cy="622.00" r="0.75" fill="#222a4c"/>
<circle cx="381.20" cy="630.80" r="3.25" fill="#fff" stroke="#222a4c" stroke-width="1.15"/><circle cx="381.20" cy="630.80" r="0.75" fill="#222a4c"/>
<circle cx="381.20" cy="650.90" r="3.25" fill="#fff" stroke="#222a4c" stroke-width="1.15"/><circle cx="381.20" cy="650.90" r="0.75" fill="#222a4c"/>
<circle cx="391.37" cy="644.80" r="3.25" fill="#fff" stroke="#222a4c" stroke-width="1.15"/><circle cx="391.37" cy="644.80" r="0.75" fill="#222a4c"/>
<circle cx="391.37" cy="648.30" r="3.25" fill="#fff" stroke="#222a4c" stroke-width="1.15"/><circle cx="391.37" cy="648.30" r="0.75" fill="#222a4c"/>
<circle cx="400.66" cy="640.80" r="3.25" fill="#fff" stroke="#222a4c" stroke-width="1.15"/><circle cx="400.66" cy="640.80" r="0.75" fill="#222a4c"/>
<circle cx="417.12" cy="649.10" r="3.25" fill="#fff" stroke="#222a4c" stroke-width="1.15"/><circle cx="417.12" cy="649.10" r="0.75" fill="#222a4c"/>
<circle cx="424.48" cy="630.70" r="3.25" fill="#fff" stroke="#222a4c" stroke-width="1.15"/><circle cx="424.48" cy="630.70" r="0.75" fill="#222a4c"/>
<circle cx="431.37" cy="631.00" r="3.25" fill="#fff" stroke="#222a4c" stroke-width="1.15"/><circle cx="431.37" cy="631.00" r="0.75" fill="#222a4c"/>
<circle cx="455.19" cy="650.30" r="3.25" fill="#fff" stroke="#222a4c" stroke-width="1.15"/><circle cx="455.19" cy="650.30" r="0.75" fill="#222a4c"/>
<circle cx="460.40" cy="620.00" r="3.25" fill="#fff" stroke="#222a4c" stroke-width="1.15"/><circle cx="460.40" cy="620.00" r="0.75" fill="#222a4c"/>
<circle cx="460.40" cy="645.60" r="3.25" fill="#fff" stroke="#222a4c" stroke-width="1.15"/><circle cx="460.40" cy="645.60" r="0.75" fill="#222a4c"/>
<circle cx="135.40" cy="574.50" r="3.25" fill="#fff" stroke="#7e2232" stroke-width="1.15"/><circle cx="135.40" cy="574.50" r="0.75" fill="#7e2232"/>
<circle cx="135.40" cy="587.10" r="3.25" fill="#fff" stroke="#7e2232" stroke-width="1.15"/><circle cx="135.40" cy="587.10" r="0.75" fill="#7e2232"/>
<circle cx="135.40" cy="597.50" r="3.25" fill="#fff" stroke="#7e2232" stroke-width="1.15"/><circle cx="135.40" cy="597.50" r="0.75" fill="#7e2232"/>
<circle cx="209.39" cy="569.90" r="3.25" fill="#fff" stroke="#7e2232" stroke-width="1.15"/><circle cx="209.39" cy="569.90" r="0.75" fill="#7e2232"/>
<circle cx="209.39" cy="577.70" r="3.25" fill="#fff" stroke="#7e2232" stroke-width="1.15"/><circle cx="209.39" cy="577.70" r="0.75" fill="#7e2232"/>
<circle cx="209.39" cy="584.00" r="3.25" fill="#fff" stroke="#7e2232" stroke-width="1.15"/><circle cx="209.39" cy="584.00" r="0.75" fill="#7e2232"/>
<circle cx="209.39" cy="590.70" r="3.25" fill="#fff" stroke="#7e2232" stroke-width="1.15"/><circle cx="209.39" cy="590.70" r="0.75" fill="#7e2232"/>
<circle cx="209.39" cy="652.10" r="3.25" fill="#fff" stroke="#7e2232" stroke-width="1.15"/><circle cx="209.39" cy="652.10" r="0.75" fill="#7e2232"/>
<circle cx="252.68" cy="574.30" r="3.25" fill="#fff" stroke="#7e2232" stroke-width="1.15"/><circle cx="252.68" cy="574.30" r="0.75" fill="#7e2232"/>
<circle cx="252.68" cy="577.30" r="3.25" fill="#fff" stroke="#7e2232" stroke-width="1.15"/><circle cx="252.68" cy="577.30" r="0.75" fill="#7e2232"/>
<circle cx="252.68" cy="586.60" r="3.25" fill="#fff" stroke="#7e2232" stroke-width="1.15"/><circle cx="252.68" cy="586.60" r="0.75" fill="#7e2232"/>
<circle cx="252.68" cy="590.10" r="3.25" fill="#fff" stroke="#7e2232" stroke-width="1.15"/><circle cx="252.68" cy="590.10" r="0.75" fill="#7e2232"/>
<circle cx="252.68" cy="594.10" r="3.25" fill="#fff" stroke="#7e2232" stroke-width="1.15"/><circle cx="252.68" cy="594.10" r="0.75" fill="#7e2232"/>
<circle cx="252.68" cy="614.30" r="3.25" fill="#fff" stroke="#7e2232" stroke-width="1.15"/><circle cx="252.68" cy="614.30" r="0.75" fill="#7e2232"/>
<circle cx="283.39" cy="578.80" r="3.25" fill="#fff" stroke="#7e2232" stroke-width="1.15"/><circle cx="283.39" cy="578.80" r="0.75" fill="#7e2232"/>
<circle cx="283.39" cy="581.10" r="3.25" fill="#fff" stroke="#7e2232" stroke-width="1.15"/><circle cx="283.39" cy="581.10" r="0.75" fill="#7e2232"/>
<circle cx="283.39" cy="588.50" r="3.25" fill="#fff" stroke="#7e2232" stroke-width="1.15"/><circle cx="283.39" cy="588.50" r="0.75" fill="#7e2232"/>
<circle cx="283.39" cy="584.00" r="3.25" fill="#fff" stroke="#7e2232" stroke-width="1.15"/><circle cx="283.39" cy="584.00" r="0.75" fill="#7e2232"/>
<circle cx="283.39" cy="604.80" r="3.25" fill="#fff" stroke="#7e2232" stroke-width="1.15"/><circle cx="283.39" cy="604.80" r="0.75" fill="#7e2232"/>
<circle cx="307.21" cy="582.00" r="3.25" fill="#fff" stroke="#7e2232" stroke-width="1.15"/><circle cx="307.21" cy="582.00" r="0.75" fill="#7e2232"/>
<circle cx="307.21" cy="584.40" r="3.25" fill="#fff" stroke="#7e2232" stroke-width="1.15"/><circle cx="307.21" cy="584.40" r="0.75" fill="#7e2232"/>
<circle cx="326.67" cy="567.50" r="3.25" fill="#fff" stroke="#7e2232" stroke-width="1.15"/><circle cx="326.67" cy="567.50" r="0.75" fill="#7e2232"/>
<circle cx="326.67" cy="580.20" r="3.25" fill="#fff" stroke="#7e2232" stroke-width="1.15"/><circle cx="326.67" cy="580.20" r="0.75" fill="#7e2232"/>
<circle cx="326.67" cy="582.40" r="3.25" fill="#fff" stroke="#7e2232" stroke-width="1.15"/><circle cx="326.67" cy="582.40" r="0.75" fill="#7e2232"/>
<circle cx="326.67" cy="588.50" r="3.25" fill="#fff" stroke="#7e2232" stroke-width="1.15"/><circle cx="326.67" cy="588.50" r="0.75" fill="#7e2232"/>
<circle cx="343.13" cy="563.90" r="3.25" fill="#fff" stroke="#7e2232" stroke-width="1.15"/><circle cx="343.13" cy="563.90" r="0.75" fill="#7e2232"/>
<circle cx="343.13" cy="584.90" r="3.25" fill="#fff" stroke="#7e2232" stroke-width="1.15"/><circle cx="343.13" cy="584.90" r="0.75" fill="#7e2232"/>
<circle cx="343.13" cy="587.80" r="3.25" fill="#fff" stroke="#7e2232" stroke-width="1.15"/><circle cx="343.13" cy="587.80" r="0.75" fill="#7e2232"/>
<circle cx="343.13" cy="599.20" r="3.25" fill="#fff" stroke="#7e2232" stroke-width="1.15"/><circle cx="343.13" cy="599.20" r="0.75" fill="#7e2232"/>
<circle cx="343.13" cy="608.60" r="3.25" fill="#fff" stroke="#7e2232" stroke-width="1.15"/><circle cx="343.13" cy="608.60" r="0.75" fill="#7e2232"/>
<circle cx="357.38" cy="572.40" r="3.25" fill="#fff" stroke="#7e2232" stroke-width="1.15"/><circle cx="357.38" cy="572.40" r="0.75" fill="#7e2232"/>
<circle cx="357.38" cy="587.30" r="3.25" fill="#fff" stroke="#7e2232" stroke-width="1.15"/><circle cx="357.38" cy="587.30" r="0.75" fill="#7e2232"/>
<circle cx="369.95" cy="584.00" r="3.25" fill="#fff" stroke="#7e2232" stroke-width="1.15"/><circle cx="369.95" cy="584.00" r="0.75" fill="#7e2232"/>
<circle cx="369.95" cy="597.00" r="3.25" fill="#fff" stroke="#7e2232" stroke-width="1.15"/><circle cx="369.95" cy="597.00" r="0.75" fill="#7e2232"/>
<circle cx="381.20" cy="574.50" r="3.25" fill="#fff" stroke="#7e2232" stroke-width="1.15"/><circle cx="381.20" cy="574.50" r="0.75" fill="#7e2232"/>
<circle cx="381.20" cy="576.20" r="3.25" fill="#fff" stroke="#7e2232" stroke-width="1.15"/><circle cx="381.20" cy="576.20" r="0.75" fill="#7e2232"/>
<circle cx="400.66" cy="586.60" r="3.25" fill="#fff" stroke="#7e2232" stroke-width="1.15"/><circle cx="400.66" cy="586.60" r="0.75" fill="#7e2232"/>
<circle cx="400.66" cy="618.60" r="3.25" fill="#fff" stroke="#7e2232" stroke-width="1.15"/><circle cx="400.66" cy="618.60" r="0.75" fill="#7e2232"/>
<circle cx="409.21" cy="597.20" r="3.25" fill="#fff" stroke="#7e2232" stroke-width="1.15"/><circle cx="409.21" cy="597.20" r="0.75" fill="#7e2232"/>
<circle cx="417.12" cy="587.70" r="3.25" fill="#fff" stroke="#7e2232" stroke-width="1.15"/><circle cx="417.12" cy="587.70" r="0.75" fill="#7e2232"/>
<circle cx="417.12" cy="599.40" r="3.25" fill="#fff" stroke="#7e2232" stroke-width="1.15"/><circle cx="417.12" cy="599.40" r="0.75" fill="#7e2232"/>
<circle cx="424.48" cy="588.50" r="3.25" fill="#fff" stroke="#7e2232" stroke-width="1.15"/><circle cx="424.48" cy="588.50" r="0.75" fill="#7e2232"/>
<circle cx="424.48" cy="652.80" r="3.25" fill="#fff" stroke="#7e2232" stroke-width="1.15"/><circle cx="424.48" cy="652.80" r="0.75" fill="#7e2232"/>
<circle cx="431.37" cy="587.00" r="3.25" fill="#fff" stroke="#7e2232" stroke-width="1.15"/><circle cx="431.37" cy="587.00" r="0.75" fill="#7e2232"/>
<circle cx="437.84" cy="597.80" r="3.25" fill="#fff" stroke="#7e2232" stroke-width="1.15"/><circle cx="437.84" cy="597.80" r="0.75" fill="#7e2232"/>
<circle cx="443.95" cy="585.10" r="3.25" fill="#fff" stroke="#7e2232" stroke-width="1.15"/><circle cx="443.95" cy="585.10" r="0.75" fill="#7e2232"/>
<circle cx="455.19" cy="573.80" r="3.25" fill="#fff" stroke="#7e2232" stroke-width="1.15"/><circle cx="455.19" cy="573.80" r="0.75" fill="#7e2232"/>
<circle cx="483.20" cy="589.50" r="3.25" fill="#fff" stroke="#7e2232" stroke-width="1.15"/><circle cx="483.20" cy="589.50" r="0.75" fill="#7e2232"/>
<circle cx="498.48" cy="586.60" r="3.25" fill="#fff" stroke="#7e2232" stroke-width="1.15"/><circle cx="498.48" cy="586.60" r="0.75" fill="#7e2232"/>
<path d="M98.30,119.80 L98.30,109.25" stroke="#111" stroke-width="1.55" fill="none"/>
<path d="M98.80,109.35 L97.90,109.35 C97.40,110.65 96.00,111.55 94.90,111.65 L94.90,112.65 C96.30,112.65 97.70,112.05 98.80,111.15 Z" fill="#111"/>
<text transform="translate(107.25,119.80) scale(1.1,1)" font-size="15" text-anchor="middle" stroke="#111" stroke-width="0.3">0</text>
<path d="M107.80,270.00 L107.80,259.45" stroke="#111" stroke-width="1.55" fill="none"/>
<path d="M108.30,259.55 L107.40,259.55 C106.90,260.85 105.50,261.75 104.40,261.85 L104.40,262.85 C105.80,262.85 107.20,262.25 108.30,261.35 Z" fill="#111"/>
<path d="M130.85,297.50 L130.85,286.95" stroke="#111" stroke-width="1.55" fill="none"/>
<path d="M131.35,287.05 L130.45,287.05 C129.95,288.35 128.55,289.25 127.45,289.35 L127.45,290.35 C128.85,290.35 130.25,289.75 131.35,288.85 Z" fill="#111"/>
<path d="M263.80,297.50 L263.80,286.95" stroke="#111" stroke-width="1.55" fill="none"/>
<path d="M264.30,287.05 L263.40,287.05 C262.90,288.35 261.50,289.25 260.40,289.35 L260.40,290.35 C261.80,290.35 263.20,289.75 264.30,288.85 Z" fill="#111"/>
<text transform="translate(272.75,297.50) scale(1.1,1)" font-size="15" text-anchor="middle" stroke="#111" stroke-width="0.3">0</text>
<path d="M396.75,297.50 L396.75,286.95" stroke="#111" stroke-width="1.55" fill="none"/>
<path d="M397.25,287.05 L396.35,287.05 C395.85,288.35 394.45,289.25 393.35,289.35 L393.35,290.35 C394.75,290.35 396.15,289.75 397.25,288.85 Z" fill="#111"/>
<text transform="translate(405.70,297.50) scale(1.1,1)" font-size="15" text-anchor="middle" stroke="#111" stroke-width="0.3">0</text>
<text transform="translate(415.20,297.50) scale(1.1,1)" font-size="15" text-anchor="middle" stroke="#111" stroke-width="0.3">0</text>
<text transform="translate(107.25,487.60) scale(1.1,1)" font-size="15" text-anchor="middle" stroke="#111" stroke-width="0.3">0</text>
<path d="M98.30,443.30 L98.30,432.75" stroke="#111" stroke-width="1.55" fill="none"/>
<path d="M98.80,432.85 L97.90,432.85 C97.40,434.15 96.00,435.05 94.90,435.15 L94.90,436.15 C96.30,436.15 97.70,435.55 98.80,434.65 Z" fill="#111"/>
<text transform="translate(107.25,443.30) scale(1.1,1)" font-size="15" text-anchor="middle" stroke="#111" stroke-width="0.3">0</text>
<text transform="translate(97.75,399.00) scale(1.1,1)" font-size="15" text-anchor="middle" stroke="#111" stroke-width="0.3">2</text>
<text transform="translate(107.25,399.00) scale(1.1,1)" font-size="15" text-anchor="middle" stroke="#111" stroke-width="0.3">0</text>
<path d="M130.85,513.00 L130.85,502.45" stroke="#111" stroke-width="1.55" fill="none"/>
<path d="M131.35,502.55 L130.45,502.55 C129.95,503.85 128.55,504.75 127.45,504.85 L127.45,505.85 C128.85,505.85 130.25,505.25 131.35,504.35 Z" fill="#111"/>
<path d="M263.80,513.00 L263.80,502.45" stroke="#111" stroke-width="1.55" fill="none"/>
<path d="M264.30,502.55 L263.40,502.55 C262.90,503.85 261.50,504.75 260.40,504.85 L260.40,505.85 C261.80,505.85 263.20,505.25 264.30,504.35 Z" fill="#111"/>
<text transform="translate(272.75,513.00) scale(1.1,1)" font-size="15" text-anchor="middle" stroke="#111" stroke-width="0.3">0</text>
<path d="M396.75,513.00 L396.75,502.45" stroke="#111" stroke-width="1.55" fill="none"/>
<path d="M397.25,502.55 L396.35,502.55 C395.85,503.85 394.45,504.75 393.35,504.85 L393.35,505.85 C394.75,505.85 396.15,505.25 397.25,504.35 Z" fill="#111"/>
<text transform="translate(405.70,513.00) scale(1.1,1)" font-size="15" text-anchor="middle" stroke="#111" stroke-width="0.3">0</text>
<text transform="translate(415.20,513.00) scale(1.1,1)" font-size="15" text-anchor="middle" stroke="#111" stroke-width="0.3">0</text>
<text transform="translate(107.25,658.10) scale(1.1,1)" font-size="15" text-anchor="middle" stroke="#111" stroke-width="0.3">0</text>
<path d="M98.30,614.30 L98.30,603.75" stroke="#111" stroke-width="1.55" fill="none"/>
<path d="M98.80,603.85 L97.90,603.85 C97.40,605.15 96.00,606.05 94.90,606.15 L94.90,607.15 C96.30,607.15 97.70,606.55 98.80,605.65 Z" fill="#111"/>
<text transform="translate(107.25,614.30) scale(1.1,1)" font-size="15" text-anchor="middle" stroke="#111" stroke-width="0.3">0</text>
<text transform="translate(97.75,570.50) scale(1.1,1)" font-size="15" text-anchor="middle" stroke="#111" stroke-width="0.3">2</text>
<text transform="translate(107.25,570.50) scale(1.1,1)" font-size="15" text-anchor="middle" stroke="#111" stroke-width="0.3">0</text>
<path d="M136.35,683.80 L136.35,673.25" stroke="#111" stroke-width="1.55" fill="none"/>
<path d="M136.85,673.35 L135.95,673.35 C135.45,674.65 134.05,675.55 132.95,675.65 L132.95,676.65 C134.35,676.65 135.75,676.05 136.85,675.15 Z" fill="#111"/>
<path d="M377.40,683.80 L377.40,673.25" stroke="#111" stroke-width="1.55" fill="none"/>
<path d="M377.90,673.35 L377.00,673.35 C376.50,674.65 375.10,675.55 374.00,675.65 L374.00,676.65 C375.40,676.65 376.80,676.05 377.90,675.15 Z" fill="#111"/>
<text transform="translate(386.35,683.80) scale(1.1,1)" font-size="15" text-anchor="middle" stroke="#111" stroke-width="0.3">0</text>
<text transform="translate(315.70,324.10) scale(0.5934,1)" font-size="19.2" text-anchor="middle" stroke="#111" stroke-width="0.55" letter-spacing="1.5">IGHV clone count</text>
<text transform="translate(315.90,539.50) scale(0.5934,1)" font-size="19.2" text-anchor="middle" stroke="#111" stroke-width="0.55" letter-spacing="1.5">IGHV clone count</text>
<text transform="translate(316.00,711.90) scale(0.5934,1)" font-size="19.2" text-anchor="middle" stroke="#111" stroke-width="0.55" letter-spacing="1.5">u<tspan font-style="italic">BCL2</tspan> clone count</text>
<text transform="translate(83.00,155.20) rotate(-90) scale(0.5934,1)" font-size="19.2" text-anchor="middle" stroke="#111" stroke-width="0.55" letter-spacing="1.5">u<tspan font-style="italic">BCL2</tspan> clone count</text>
<text transform="translate(55.10,521.60) rotate(-90) scale(0.5934,1)" font-size="19.2" text-anchor="middle" stroke="#111" stroke-width="0.55" letter-spacing="1.5">Time to progression,</text>
<text transform="translate(76.40,522.30) rotate(-90) scale(0.5934,1)" font-size="19.2" text-anchor="middle" stroke="#111" stroke-width="0.55" letter-spacing="1.5">death, or last contact (years)</text>
<text x="12.9" y="33.0" font-size="23.6" font-weight="bold" stroke="#111" stroke-width="0.3">A</text>
<text x="13.3" y="379.8" font-size="23.6" font-weight="bold" stroke="#111" stroke-width="0.3">B</text>
<text x="12.9" y="550.9" font-size="23.6" font-weight="bold" stroke="#111" stroke-width="0.3">C</text>
</svg>
</body></html>
